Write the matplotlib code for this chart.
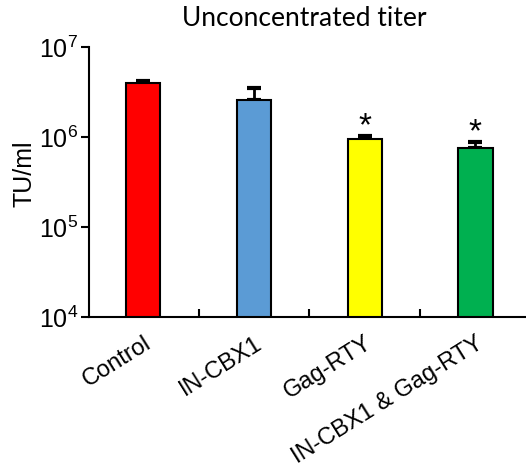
import matplotlib.pyplot as plt
import numpy as np

# data
groups = ['Control', 'IN-CBX1', 'Gag-RTY', 'IN-CBX1 & Gag-RTY']
titer = [4.0e6, 2.58e6, 9.5e5, 7.55e5]
err_up = [0.2e6, 0.92e6, 0.07e6, 0.12e6]
signif = ['', '', '*', '*']
colors = ['#FF0000', '#5B9BD5', '#FFFF00', '#00B050']
ytick_vals = [1e4, 1e5, 1e6, 1e7]
ytick_labels = ['$\\mathregular{10^{4}}$', '$\\mathregular{10^{5}}$',
                '$\\mathregular{10^{6}}$', '$\\mathregular{10^{7}}$']

plt.rcParams['font.family'] = ['Liberation Sans', 'DejaVu Sans']
plt.rcParams['mathtext.fontset'] = 'custom'
plt.rcParams['mathtext.rm'] = 'Liberation Sans'

fig = plt.figure(figsize=(5.26, 4.67), dpi=100)
ax = fig.add_axes([0.1692, 0.3212, 0.84, 0.5782])

x = np.arange(len(groups))
ax.bar(x, titer, width=0.31, color=colors, edgecolor='black', linewidth=1.5, zorder=2)
ax.errorbar(x, titer, yerr=[np.zeros(len(x)), err_up], fmt='none', ecolor='black',
            elinewidth=2, capsize=5, capthick=3, zorder=1)

for xi, t, e, s in zip(x, titer, err_up, signif):
    if s:
        ax.annotate(s, (xi, t + e), xytext=(0, 1), textcoords='offset points',
                    ha='center', va='baseline', fontsize=24)

ax.set_yscale('log')
ax.set_ylim(1e4, 1e7)
ax.set_xlim(-0.49, 3.5)
ax.set_yticks(ytick_vals)
ax.set_yticklabels(ytick_labels, fontsize=18)
ax.yaxis.set_minor_locator(plt.NullLocator())
ax.tick_params(axis='y', length=6, width=1.5, direction='out', pad=2)

ax.set_xticks(x)
ax.set_xticklabels(groups, rotation=32, ha='right', rotation_mode='anchor', fontsize=17)
ax.set_xticks([0.5, 1.5, 2.5], minor=True)
ax.tick_params(axis='x', which='major', length=0, pad=11)
ax.tick_params(axis='x', which='minor', length=6, width=1.5, direction='in')

for side in ['top', 'right']:
    ax.spines[side].set_visible(False)
for side in ['left', 'bottom']:
    ax.spines[side].set_linewidth(1.5)

fig.text(24 / 526, 1 - 174 / 467, 'TU/ml', rotation=90, ha='center', va='center',
         fontsize=18)
fig.text(0.578, 0.96, 'Unconcentrated titer', ha='center', va='center',
         fontsize=19, family=['Lato', 'DejaVu Sans'])

fig.savefig('out.png', dpi=100)
